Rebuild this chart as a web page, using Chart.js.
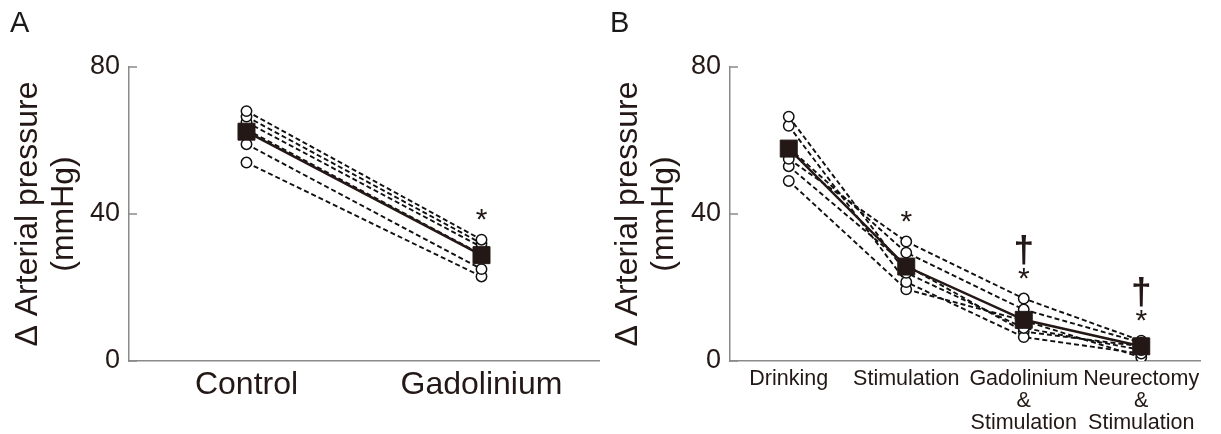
<!DOCTYPE html>
<html>
<head>
<meta charset="utf-8">
<script src="https://cdn.jsdelivr.net/npm/chart.js@4.4.1/dist/chart.umd.min.js"></script>
<style>
body { margin:0; background:#fff; width:1221px; height:434px; overflow:hidden; position:relative; font-family:"Liberation Sans", Arial, sans-serif; }
.panel { position:absolute; top:0; height:434px; }
#wrapA { left:0; width:612px; }
#wrapB { left:600px; width:621px; }
.letter { position:absolute; top:6px; font-size:29px; color:#1a1a1a; }
</style>
</head>
<body>
<div id="wrapA" class="panel"><canvas id="chartA"></canvas></div>
<div id="wrapB" class="panel"><canvas id="chartB"></canvas></div>
<div class="letter" style="left:10px">A</div>
<div class="letter" style="left:610px">B</div>
<script>
// Panel A (mmHg)
const categoriesA = ['Control', 'Gadolinium'];
const individualsA = [
    [68, 33],
    [66.5, 32],
    [65, 31],
    [63, 29],
    [59, 25],
    [54, 23]
];
const meanA = [62.4, 28.8];
const starsA = ['', '*'];
const daggersA = ['', ''];

// Panel B
const categoriesB = ['Drinking', 'Stimulation', ['Gadolinium', '&', 'Stimulation'], ['Neurectomy', '&', 'Stimulation']];
const individualsB = [
    [66.5, 24, 9, 3],
    [64, 21.5, 6.5, 2],
    [58, 29.5, 14, 5],
    [55, 32.5, 17, 5.5],
    [53, 26, 8, 4],
    [49, 19.5, 11, 1]
];
const meanB = [57.8, 25.7, 11.2, 4.0];
const starsB = ['', '*', '*', '*'];
const daggersB = ['', '', '\u2020', '\u2020'];

const yTicks = [0, 40, 80];

const ink = '#231815';
const axisGray = '#8a8a8a';
const fontFamily = '"Liberation Sans", Arial, sans-serif';

const marksPlugin = {
    id: 'marks',
    afterDraw(chart, args, opts) {
        const ctx = chart.ctx;
        const x = chart.scales.x, y = chart.scales.y;
        ctx.save();
        // inward tick marks on the y axis
        ctx.strokeStyle = axisGray;
        ctx.lineWidth = 1.5;
        y.ticks.forEach((t, i) => {
            const py = y.getPixelForTick(i);
            ctx.beginPath();
            ctx.moveTo(x.left, py);
            ctx.lineTo(x.left + 8, py);
            ctx.stroke();
        });
        // significance symbols above the highest point
        ctx.fillStyle = ink;
        ctx.textAlign = 'center';
        ctx.textBaseline = 'alphabetic';
        opts.stars.forEach((s, i) => {
            const top = Math.max(...opts.individuals.map(r => r[i]));
            const px = x.getPixelForValue(i);
            const py = y.getPixelForValue(top);
            if (s) {
                ctx.font = '30px ' + fontFamily;
                ctx.fillText(s, px, py - 11);
            }
            if (opts.daggers[i]) {
                ctx.font = 'bold 37px ' + fontFamily;
                ctx.fillText(opts.daggers[i], px, py - 37);
            }
        });
        ctx.restore();
    }
};

function buildChart(id, cats, individuals, mean, stars, daggers, cfg) {
    const datasets = [{
        data: mean,
        order: 0,
        borderColor: ink,
        borderWidth: 2.5,
        pointStyle: 'rect',
        pointRadius: 12,
        pointBackgroundColor: ink,
        pointBorderColor: ink,
        pointBorderWidth: 1
    }];
    individuals.forEach(vals => {
        datasets.push({
            data: vals,
            order: 1,
            borderColor: '#111',
            borderWidth: 1.9,
            borderDash: [5, 3],
            pointStyle: 'circle',
            pointRadius: 5.2,
            pointBackgroundColor: '#fff',
            pointBorderColor: '#111',
            pointBorderWidth: 1.5
        });
    });

    new Chart(document.getElementById(id), {
        type: 'line',
        data: { labels: cats, datasets: datasets },
        options: {
            responsive: true,
            maintainAspectRatio: false,
            animation: false,
            layout: { padding: { top: 67, right: cfg.rightPad, left: 0, bottom: 0 } },
            plugins: {
                legend: { display: false },
                tooltip: { enabled: false },
                marks: { individuals: individuals, stars: stars, daggers: daggers }
            },
            scales: {
                x: {
                    offset: true,
                    grid: { display: false, drawTicks: false },
                    border: { display: true, color: axisGray, width: 1.5 },
                    ticks: {
                        color: ink,
                        padding: cfg.labelPad,
                        maxRotation: 0,
                        autoSkip: false,
                        font: { family: fontFamily, size: cfg.labelSize, lineHeight: 1.03 }
                    },
                    afterFit: s => { s.height = 73; }
                },
                y: {
                    min: 0,
                    max: 80,
                    afterBuildTicks: s => { s.ticks = yTicks.map(v => ({ value: v })); },
                    grid: { display: false, drawTicks: false },
                    border: { display: true, color: axisGray, width: 1.5 },
                    ticks: {
                        color: ink,
                        padding: 9,
                        font: { family: fontFamily, size: 27 }
                    },
                    title: {
                        display: true,
                        text: ['\u0394 Arterial pressure', '(mmHg)'],
                        color: ink,
                        padding: { top: cfg.titlePad, bottom: 0 },
                        font: { family: fontFamily, size: 32, lineHeight: 1.1 }
                    },
                    afterFit: s => { s.width = cfg.axisX; }
                }
            }
        },
        plugins: [marksPlugin]
    });
}

buildChart('chartA', categoriesA, individualsA, meanA, starsA, daggersA,
    { axisX: 129, rightPad: 5, labelSize: 32, labelPad: 8, titlePad: 11 });
buildChart('chartB', categoriesB, individualsB, meanB, starsB, daggersB,
    { axisX: 130, rightPad: 21, labelSize: 21.5, labelPad: 7, titlePad: 11 });
</script>
</body>
</html>
